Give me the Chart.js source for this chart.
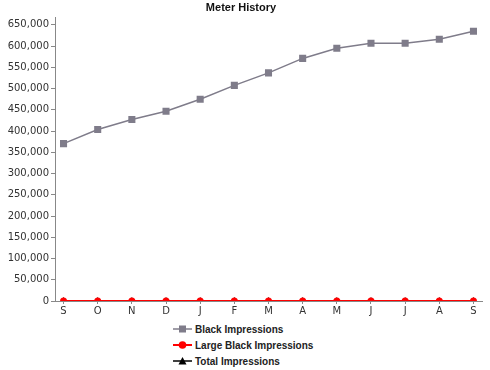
<!DOCTYPE html>
<html>
<head>
<meta charset="utf-8">
<script src="https://cdn.jsdelivr.net/npm/chart.js@4"></script>
<style>
  body { margin: 0; background: #fff; }
  #wrap { width: 490px; height: 370px; position: relative; }
  #legend { position: absolute; left: 173px; top: 321px; font: bold 10px "Liberation Sans", Arial, sans-serif; color: #222; }
  .row { height: 16px; display: flex; align-items: center; }
  .row svg { margin-right: 3px; }
</style>
</head>
<body>
<div id="wrap">
  <canvas id="meterChart" width="490" height="320"></canvas>
  <div id="legend"></div>
</div>
<script>
const months = ["S", "O", "N", "D", "J", "F", "M", "A", "M", "J", "J", "A", "S"];
const blackImpressions = [370500, 403500, 427000, 446500, 475000, 507500, 537000, 571000, 595000, 606500, 606500, 616000, 635000];
const largeBlackImpressions = [0, 0, 0, 0, 0, 0, 0, 0, 0, 0, 0, 0, 0];
const totalImpressions = [0, 0, 0, 0, 0, 0, 0, 0, 0, 0, 0, 0, 0];
const yTicks = [0, 50000, 100000, 150000, 200000, 250000, 300000, 350000, 400000, 450000, 500000, 550000, 600000, 650000];

const seriesInfo = [
  { label: "Black Impressions", data: blackImpressions, color: "#7f7c8a", style: "rect", radius: 5, width: 1.5 },
  { label: "Large Black Impressions", data: largeBlackImpressions, color: "#ff0000", style: "circle", radius: 3.5, width: 2 },
  { label: "Total Impressions", data: totalImpressions, color: "#000000", style: "triangle", radius: 4, width: 1.5 },
];

function toPoints(arr) {
  return arr.map((v, i) => ({ x: i, y: v }));
}

// draw order: total under red, black on top
const datasets = seriesInfo.map((s, i) => ({
  label: s.label,
  data: toPoints(s.data),
  borderColor: s.color,
  backgroundColor: s.color,
  borderWidth: s.width,
  pointStyle: s.style,
  pointRadius: s.radius,
  pointBorderWidth: 0,
  order: i === 2 ? 3 : i === 1 ? 2 : 1,
}));

const axisColor = "#888888";
const tickFont = { family: "DejaVu Sans", size: 10 };

new Chart(document.getElementById("meterChart"), {
  type: "line",
  data: { datasets: datasets },
  options: {
    responsive: false,
    animation: false,
    layout: { padding: { left: 0, right: 8, top: 0, bottom: 0 } },
    plugins: {
      legend: { display: false },
      tooltip: { enabled: false },
      title: {
        display: true,
        text: "Meter History",
        color: "#111",
        font: { family: "Liberation Sans", size: 11, weight: "bold" },
        padding: { top: 1, bottom: 3 },
      },
    },
    scales: {
      x: {
        type: "linear",
        min: -0.25,
        max: 12.25,
        afterBuildTicks: (scale) => {
          scale.ticks = months.map((m, i) => ({ value: i }));
        },
        afterFit: (scale) => { scale.height = 19; },
        ticks: {
          color: "#333",
          font: tickFont,
          padding: 1,
          maxRotation: 0,
          autoSkip: false,
          callback: (v) => months[v],
        },
        grid: { display: true, drawOnChartArea: false, drawTicks: true, tickLength: 3, color: axisColor },
        border: { display: true, color: axisColor },
      },
      y: {
        type: "linear",
        min: 0,
        max: 668000,
        afterBuildTicks: (scale) => {
          scale.ticks = yTicks.map((v) => ({ value: v }));
        },
        afterFit: (scale) => { scale.width = 55; },
        ticks: {
          color: "#333",
          font: tickFont,
          padding: 2,
          autoSkip: false,
          callback: (v) => v.toLocaleString("en-US"),
        },
        grid: { display: true, drawOnChartArea: false, drawTicks: true, tickLength: 4, color: axisColor },
        border: { display: true, color: axisColor },
      },
    },
  },
});

// html legend, one row per series
const legend = document.getElementById("legend");
seriesInfo.forEach((s) => {
  let marker = "";
  if (s.style === "rect") marker = `<rect x="6" y="2.5" width="7" height="7" fill="${s.color}"/>`;
  else if (s.style === "circle") marker = `<circle cx="9.5" cy="6" r="3.8" fill="${s.color}"/>`;
  else marker = `<polygon points="9.5,2 13.5,9.5 5.5,9.5" fill="${s.color}"/>`;
  const row = document.createElement("div");
  row.className = "row";
  row.innerHTML = `<svg width="19" height="12"><line x1="0" y1="6" x2="19" y2="6" stroke="${s.color}" stroke-width="${s.width}"/>${marker}</svg><span>${s.label}</span>`;
  legend.appendChild(row);
});
</script>
</body>
</html>
